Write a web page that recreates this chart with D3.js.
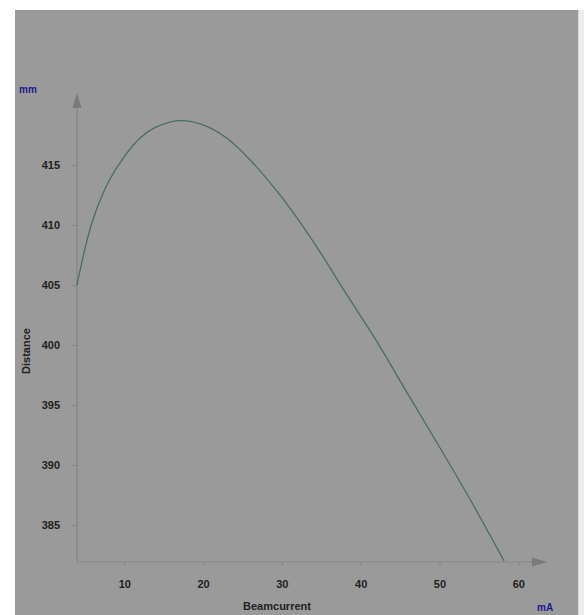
<!DOCTYPE html>
<html>
<head>
<meta charset="utf-8">
<script src="https://cdn.jsdelivr.net/npm/d3@7"></script>
<style>
  html, body { margin: 0; padding: 0; background: #ffffff; }
  svg { display: block; }
  text { font-family: Arial, "Liberation Sans", sans-serif; font-weight: bold; }
</style>
</head>
<body>
<svg id="chart" width="584" height="615"></svg>
<script>
// Beam current (mA) vs. focus distance (mm)
const beamCurrent = [4, 5, 6, 8, 10, 12, 14, 17, 20, 23, 26, 30, 34, 38, 42, 46, 50, 54, 58.2];
const distance    = [405.0, 408.0, 410.4, 413.6, 415.7, 417.25, 418.15, 418.7, 418.35, 417.25, 415.4, 412.3, 408.6, 404.45, 400.35, 395.9, 391.5, 387.0, 382.0];
const xTicks = [10, 20, 30, 40, 50, 60];
const yTicks = [385, 390, 395, 400, 405, 410, 415];

const svg = d3.select("#chart");

// panel
svg.append("rect").attr("x", 15).attr("y", 10).attr("width", 563).attr("height", 605).attr("fill", "#9a9a9a");
svg.append("rect").attr("x", 578).attr("y", 10).attr("width", 6).attr("height", 605).attr("fill", "#ececec");
svg.append("line").attr("x1", 578.5).attr("x2", 578.5).attr("y1", 10).attr("y2", 615).attr("stroke", "#d6d6d6");

const x0 = 77, y0 = 562;
const x = d3.scaleLinear().domain([4, 60]).range([x0, x0 + 56 * 7.88]);
const y = d3.scaleLinear().domain([385, 415]).range([525, 165]);

const axisColor = "#858585";

// x axis
const gx = svg.append("g").attr("transform", `translate(0,${y0})`)
  .call(d3.axisBottom(x).tickValues(xTicks).tickSize(4).tickPadding(14).tickFormat(d3.format("d")));
gx.select(".domain").remove();
gx.selectAll(".tick line").attr("stroke", axisColor);
gx.selectAll(".tick text").attr("fill", "#222").attr("font-size", 11);
svg.append("line").attr("x1", x0).attr("x2", 536).attr("y1", y0).attr("y2", y0).attr("stroke", axisColor).attr("stroke-width", 1.2);
svg.append("path").attr("d", `M547,${y0} L532,${y0 - 4.5} L532,${y0 + 4.5} Z`).attr("fill", "#7a7a7a");

// y axis
const gy = svg.append("g").attr("transform", `translate(${x0},0)`)
  .call(d3.axisLeft(y).tickValues(yTicks).tickSize(5).tickPadding(12).tickFormat(d3.format("d")));
gy.select(".domain").remove();
gy.selectAll(".tick line").attr("stroke", axisColor);
gy.selectAll(".tick text").attr("fill", "#222").attr("font-size", 11);
svg.append("line").attr("x1", x0).attr("x2", x0).attr("y1", y0).attr("y2", 104).attr("stroke", axisColor).attr("stroke-width", 1.2);
svg.append("path").attr("d", `M${x0},93 L${x0 - 4.5},108 L${x0 + 4.5},108 Z`).attr("fill", "#7a7a7a");

// curve
const pts = beamCurrent.map((c, i) => [c, distance[i]]);
svg.append("path")
  .datum(pts)
  .attr("fill", "none")
  .attr("stroke", "#4d6b69")
  .attr("stroke-width", 1.3)
  .attr("d", d3.line().x(d => x(d[0])).y(d => y(d[1])).curve(d3.curveCatmullRom.alpha(0.5)));

// labels
svg.append("text").attr("x", 19).attr("y", 93).attr("font-size", 10).attr("fill", "#1c1c8a").text("mm");
svg.append("text").attr("x", 537).attr("y", 611).attr("font-size", 10).attr("fill", "#1c1c8a").text("mA");
svg.append("text").attr("x", 277).attr("y", 610).attr("text-anchor", "middle").attr("font-size", 11).attr("fill", "#222").text("Beamcurrent");
svg.append("text").attr("transform", "translate(30,351) rotate(-90)").attr("text-anchor", "middle").attr("font-size", 11).attr("fill", "#222").text("Distance");
</script>
</body>
</html>
